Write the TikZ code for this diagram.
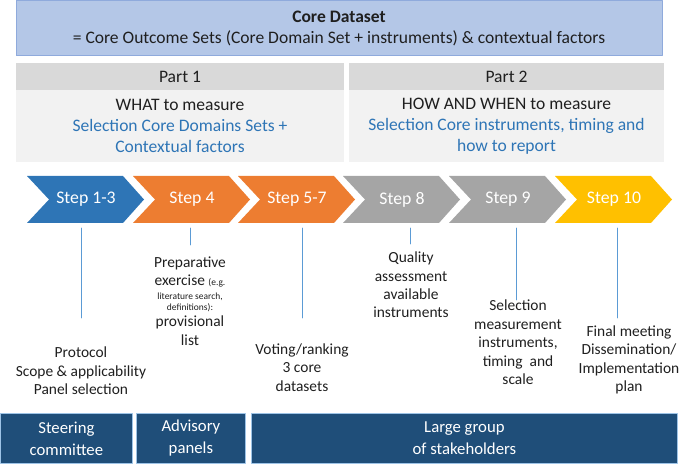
\documentclass[tikz,border=0pt]{standalone}
\usepackage{fontspec}
\setmainfont{Carlito}
\definecolor{topblue}{HTML}{B4C7E7}
\definecolor{topedge}{HTML}{8FAADC}
\definecolor{hdrgray}{HTML}{D9D9D9}
\definecolor{bodygray}{HTML}{F2F2F2}
\definecolor{txtblue}{HTML}{2E75B6}
\definecolor{stepblue}{HTML}{2E75B6}
\definecolor{steporange}{HTML}{ED7D31}
\definecolor{stepgray}{HTML}{A5A5A5}
\definecolor{stepgold}{HTML}{FFC000}
\definecolor{stemblue}{HTML}{5B9BD5}
\definecolor{navy}{HTML}{1F4E79}
\definecolor{navyedge}{HTML}{9DC3E6}
\begin{document}
\begin{tikzpicture}[x=1bp,y=-1bp,line join=round,line cap=round,
		txt/.style={align=center,inner sep=0pt,text=black!88,font=\fontsize{15.5}{18.5}\selectfont},
		head/.style={align=center,inner sep=0pt,text=black!88,font=\fontsize{17.6}{21}\selectfont},
		steptxt/.style={inner sep=0pt,text=white,font=\fontsize{17.8}{20}\selectfont},
		stem/.style={stemblue,line width=0.7bp},
		grp/.style={draw=navyedge,fill=navy,line width=0.8bp,text=white,align=center,anchor=north west,
			minimum height=50bp,inner sep=0pt,font=\fontsize{16.8}{22}\selectfont}]
	\useasboundingbox (0,0) rectangle (685,465);
	% core dataset
	\draw[fill=topblue,draw=topedge,line width=1bp] (16,1) rectangle (662,56);
	\node[head] (core) at (339,28.5) {\textbf{Core Dataset}\\= Core Outcome Sets (Core Domain Set + instruments) \& contextual factors};
	% the two parts
	\fill[hdrgray] (16,63) rectangle (344,90);
	\fill[bodygray] (16,90) rectangle (344,162);
	\fill[hdrgray] (349,63) rectangle (664,90);
	\fill[bodygray] (349,90) rectangle (664,162);
	\node[head] (part1) at (180,77) {Part 1};
	\node[head] (what) at (180,126) {WHAT to measure\\\textcolor{txtblue}{Selection Core Domains Sets +}\\\textcolor{txtblue}{Contextual factors}};
	\node[head] (part2) at (506.5,77) {Part 2};
	\node[head] (how) at (506.5,126) {HOW AND WHEN to measure\\\textcolor{txtblue}{Selection Core instruments, timing and}\\\textcolor{txtblue}{how to report}};
	% steps
	\foreach \xl/\col/\lab/\nm in {27/stepblue/Step 1-3/s1,133/steporange/Step 4/s4,238/steporange/Step 5-7/s5,
			343/stepgray/Step 8/s8,449/stepgray/Step 9/s9,555/stepgold/Step 10/s10}{
		\fill[\col] (\xl,176) -- ++(96,0) -- ++(21,23.5) -- ++(-21,23.5) -- ++(-96,0) -- ++(22,-23.5) -- cycle;
		\node[steptxt] (\nm) at (\xl+59,199.5) {\lab};
	}
	% stems
	\foreach \x/\yb/\nm in {81/318/s1,190/245/s4,302/318/s5,410/244/s8,516/300/s9,617/318/s10}{
		\coordinate (\nm top) at (\x,228);
		\coordinate (\nm end) at (\x,\yb);
		\draw[stem] (\nm top) -- (\nm end);
	}
	% what happens per step
	\node[txt] (protocol) at (81,371) {Protocol\\Scope \& applicability\\Panel selection};
	\node[txt] (prep) at (190,301) {Preparative\\exercise {\fontsize{9.5}{11}\selectfont(e.g.}\\[-4.5bp]
		{\fontsize{9.5}{11}\selectfont literature search,}\\[-7.5bp]{\fontsize{9.5}{11}\selectfont definitions):}\\[-2.5bp]
		provisional\\list};
	\node[txt] (voting) at (302,367.5) {Voting/ranking\\3 core\\datasets};
	\node[txt] (quality) at (411,285) {Quality\\assessment\\available\\instruments};
	\node[txt] (select) at (518,342.5) {Selection\\measurement\\instruments,\\timing~ and\\scale};
	\node[txt] (final) at (629,360) {Final meeting\\Dissemination/\\Implementation\\plan};
	% who is involved
	\node[grp,minimum width=132bp] (steer) at (0,413) {Steering\\committee};
	\node[grp,minimum width=109bp] (advis) at (136,413) {Advisory\\panels};
	\node[grp,minimum width=426bp] (large) at (251,413) {Large group\\of stakeholders};
\end{tikzpicture}
\end{document}
